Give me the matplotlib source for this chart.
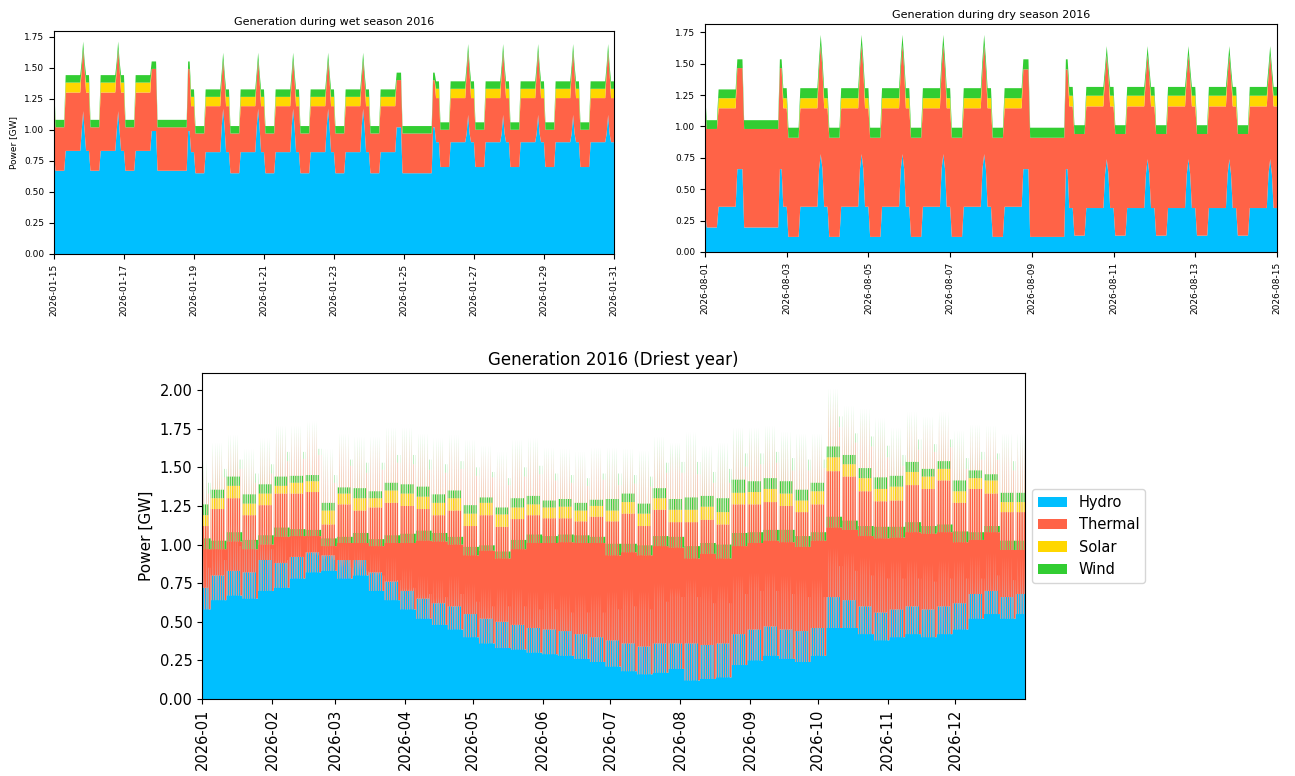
import numpy as np
import pandas as pd
import matplotlib
matplotlib.use('Agg')
import matplotlib.pyplot as plt
import matplotlib.dates as mdates
from matplotlib.ticker import MultipleLocator

techs = ['Hydro', 'Thermal', 'Solar', 'Wind']
colors = ['deepskyblue', 'tomato', 'gold', 'limegreen']

# weekly block dispatch [GW], week 0 starts Monday 2025-12-29
hydro_base = [0.58, 0.64, 0.67, 0.65, 0.70, 0.72, 0.78, 0.82, 0.83, 0.78,
              0.80, 0.70, 0.64, 0.58, 0.52, 0.48, 0.45, 0.40, 0.36, 0.33,
              0.32, 0.30, 0.29, 0.28, 0.26, 0.24, 0.21, 0.18, 0.16, 0.17,
              0.195, 0.12, 0.13, 0.14, 0.22, 0.25, 0.28, 0.26, 0.24, 0.28,
              0.46, 0.46, 0.42, 0.38, 0.40, 0.42, 0.40, 0.42, 0.45, 0.52,
              0.55, 0.52, 0.55]
hydro_mid = [0.72, 0.80, 0.83, 0.82, 0.90, 0.88, 0.92, 0.95, 0.93, 0.90,
             0.90, 0.82, 0.76, 0.70, 0.65, 0.62, 0.60, 0.55, 0.52, 0.50,
             0.48, 0.46, 0.45, 0.44, 0.42, 0.40, 0.38, 0.36, 0.34, 0.36,
             0.36, 0.36, 0.35, 0.36, 0.42, 0.45, 0.47, 0.45, 0.44, 0.46,
             0.66, 0.64, 0.60, 0.56, 0.58, 0.60, 0.58, 0.60, 0.62, 0.68,
             0.70, 0.66, 0.68]
hydro_peak = [1.00, 1.05, 1.15, 1.17, 1.12, 1.05, 1.07, 1.08, 1.05, 1.00,
              0.98, 0.95, 0.92, 0.85, 0.80, 0.78, 0.80, 0.75, 0.72, 0.72,
              0.72, 0.70, 0.70, 0.68, 0.68, 0.68, 0.70, 0.72, 0.70, 0.75,
              0.72, 0.78, 0.74, 0.74, 0.80, 0.82, 0.82, 0.80, 0.78, 0.78,
              0.98, 0.95, 0.92, 0.90, 0.90, 0.90, 0.88, 0.90, 0.90, 0.93,
              0.95, 0.92, 0.92]
# evening shoulder / weekend peak
hydro_high = [0.85, 0.90, 0.99, 1.02, 0.97, 0.90, 0.92, 0.93, 0.90, 0.85,
              0.83, 0.80, 0.77, 0.72, 0.68, 0.66, 0.68, 0.63, 0.60, 0.60,
              0.60, 0.58, 0.58, 0.56, 0.56, 0.56, 0.58, 0.60, 0.58, 0.63,
              0.66, 0.66, 0.62, 0.62, 0.68, 0.70, 0.70, 0.68, 0.66, 0.66,
              0.86, 0.83, 0.80, 0.78, 0.78, 0.78, 0.76, 0.78, 0.78, 0.78,
              0.80, 0.77, 0.77]
thermal_base = [0.39, 0.33, 0.35, 0.32, 0.30, 0.33, 0.275, 0.235, 0.16, 0.23,
                0.21, 0.29, 0.37, 0.43, 0.505, 0.54, 0.55, 0.53, 0.60, 0.58,
                0.65, 0.71, 0.72, 0.735, 0.75, 0.77, 0.72, 0.77, 0.77, 0.82,
                0.785, 0.79, 0.81, 0.77, 0.77, 0.76, 0.745, 0.755, 0.745, 0.745,
                0.65, 0.635, 0.635, 0.66, 0.645, 0.66, 0.67, 0.66, 0.565, 0.51,
                0.53, 0.445, 0.415]
thermal_mid = [0.40, 0.43, 0.47, 0.37, 0.355, 0.45, 0.41, 0.39, 0.20, 0.36,
               0.32, 0.42, 0.51, 0.55, 0.58, 0.57, 0.62, 0.57, 0.67, 0.615,
               0.685, 0.73, 0.72, 0.73, 0.73, 0.78, 0.77, 0.84, 0.78, 0.865,
               0.785, 0.785, 0.81, 0.77, 0.84, 0.81, 0.805, 0.80, 0.77, 0.80,
               0.815, 0.80, 0.745, 0.72, 0.705, 0.785, 0.78, 0.815, 0.65, 0.68,
               0.63, 0.55, 0.53]
thermal_peak = [0.48, 0.555, 0.50, 0.39, 0.51, 0.66, 0.655, 0.68, 0.52, 0.68,
                0.655, 0.705, 0.79, 0.85, 0.855, 0.855, 0.86, 0.875, 0.885, 0.835,
                0.90, 0.935, 0.885, 0.89, 0.87, 0.91, 0.855, 0.845, 0.845, 0.885,
                0.87, 0.87, 0.83, 0.83, 0.875, 0.87, 0.88, 0.85, 0.87, 0.885,
                0.96, 0.89, 0.895, 0.845, 0.79, 0.895, 0.90, 0.91, 0.77, 0.80,
                0.78, 0.74, 0.74]
thermal_high = [0.48, 0.535, 0.50, 0.38, 0.49, 0.64, 0.635, 0.65, 0.50, 0.66,
                0.635, 0.685, 0.76, 0.80, 0.805, 0.805, 0.81, 0.815, 0.835, 0.785,
                0.84, 0.875, 0.835, 0.84, 0.82, 0.86, 0.805, 0.795, 0.795, 0.835,
                0.805, 0.795, 0.78, 0.78, 0.825, 0.82, 0.83, 0.80, 0.82, 0.835,
                0.90, 0.83, 0.835, 0.785, 0.73, 0.835, 0.84, 0.85, 0.71, 0.77,
                0.75, 0.71, 0.71]
solar_mid = [0.07, 0.07, 0.08, 0.075, 0.075, 0.05, 0.07, 0.07, 0.09, 0.07,
             0.08, 0.06, 0.08, 0.08, 0.08, 0.08, 0.08, 0.08, 0.08, 0.08,
             0.075, 0.07, 0.07, 0.075, 0.07, 0.07, 0.07, 0.075, 0.08, 0.075,
             0.08, 0.08, 0.085, 0.08, 0.075, 0.08, 0.085, 0.08, 0.075, 0.085,
             0.09, 0.08, 0.085, 0.08, 0.09, 0.085, 0.08, 0.075, 0.075, 0.07,
             0.085, 0.065, 0.065]
wind = [0.07, 0.055, 0.06, 0.06, 0.06, 0.06, 0.045, 0.04, 0.05, 0.04,
        0.065, 0.045, 0.05, 0.06, 0.065, 0.055, 0.05, 0.055, 0.035, 0.045,
        0.06, 0.055, 0.045, 0.05, 0.05, 0.04, 0.075, 0.055, 0.065, 0.065,
        0.07, 0.08, 0.07, 0.09, 0.085, 0.07, 0.07, 0.08, 0.07, 0.055,
        0.07, 0.06, 0.065, 0.075, 0.07, 0.065, 0.05, 0.05, 0.07, 0.05,
        0.04, 0.06, 0.06]

# load block of each hour: b=base, m=mid, h=high, p=peak
weekday_blocks = 'm' + 'b' * 7 + 'm' * 11 + 'hph' + 'mm'
saturday_blocks = 'm' + 'b' * 7 + 'm' * 11 + 'hhhh' + 'b'
sunday_blocks = 'b' * 20 + 'hh' + 'mm'

# hourly series
hours = pd.date_range('2026-01-01 00:00', '2026-12-31 23:00', freq='h')
week = np.asarray(((hours + pd.Timedelta(hours=2)).normalize()
                   - pd.Timestamp('2025-12-29')).days // 7)
day_blocks = [weekday_blocks] * 5 + [saturday_blocks, sunday_blocks]
col = {'b': 0, 'm': 1, 'h': 2, 'p': 3}
block = np.array([col[day_blocks[d][h]] for d, h in zip(hours.dayofweek, hours.hour)])

zero = np.zeros(len(wind))
tables = {
    'Hydro': np.column_stack([hydro_base, hydro_mid, hydro_high, hydro_peak]),
    'Thermal': np.column_stack([thermal_base, thermal_mid, thermal_high, thermal_peak]),
    'Solar': np.column_stack([zero, solar_mid, zero, zero]),
    'Wind': np.column_stack([wind, wind, wind, wind]),
}
gen = pd.DataFrame({t: tables[t][week, block] for t in techs}, index=hours)


def area(ax, df):
    x = df.index.to_numpy()
    ax.stackplot(x, *[df[t].to_numpy() for t in techs],
                 labels=techs, colors=colors)
    ax.set_xlim(x[0], x[-1])


def season_axes(ax, df, title, start, end):
    area(ax, df)
    ax.set_title(title, fontsize=8, pad=4)
    ax.set_xticks(pd.date_range(start, end, freq='2D'))
    ax.xaxis.set_major_formatter(mdates.DateFormatter('%Y-%m-%d'))
    ax.yaxis.set_major_locator(MultipleLocator(0.25))
    ax.tick_params(labelsize=6.5)
    plt.setp(ax.get_xticklabels(), rotation=90)


fig = plt.figure(figsize=(12.95, 7.76), dpi=100)

ax1 = fig.add_axes([0.0417, 0.6727, 0.4324, 0.2874])
season_axes(ax1, gen.loc['2026-01-15 00:00':'2026-01-31 00:00'],
            'Generation during wet season 2016', '2026-01-15', '2026-01-31')
ax1.set_ylabel('Power [GW]', fontsize=6.5)

ax2 = fig.add_axes([0.5444, 0.6753, 0.4417, 0.2938])
season_axes(ax2, gen.loc['2026-08-01 00:00':'2026-08-15 00:00'],
            'Generation during dry season 2016', '2026-08-01', '2026-08-15')

# whole year
ax3 = fig.add_axes([0.156, 0.0992, 0.6355, 0.4201])
area(ax3, gen)
ax3.set_title('Generation 2016 (Driest year)', fontsize=12)
ax3.set_ylabel('Power [GW]', fontsize=11)
ax3.xaxis.set_major_locator(mdates.MonthLocator())
ax3.xaxis.set_major_formatter(mdates.DateFormatter('%Y-%m'))
ax3.tick_params(labelsize=10.5)
plt.setp(ax3.get_xticklabels(), rotation=90)
ax3.legend(loc='center left', bbox_to_anchor=(1.0, 0.5), fontsize=10.5)

fig.savefig('out.png', dpi=100)
